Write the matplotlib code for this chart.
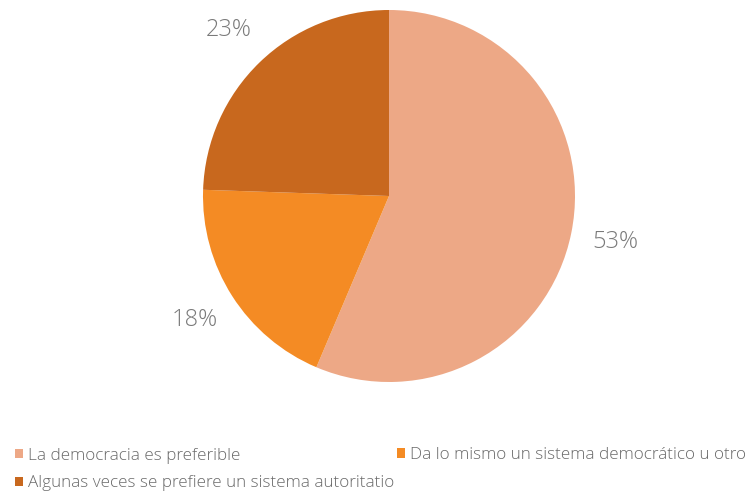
import matplotlib.pyplot as plt
from matplotlib.patches import Patch

# datos
categorias = ['La democracia es preferible',
              'Da lo mismo un sistema democrático u otro',
              'Algunas veces se prefiere un sistema autoritatio']
valores = [53, 18, 23]
colores = ['#EDA886', '#F48B24', '#C8681E']

plt.rcParams['font.family'] = ['Open Sans', 'DejaVu Sans']

W, H = 753, 497
fig = plt.figure(figsize=(W / 100, H / 100), dpi=100)
fig.patch.set_facecolor('white')

# ejes del pie: centro (389,196) px, radio 186 px
cx, cy, r = 389, 196, 186
ax = fig.add_axes([(cx - r) / W, (H - cy - r) / H, 2 * r / W, 2 * r / H])

total = sum(valores)
wedges, textos, pcts = ax.pie(
    valores, colors=colores, startangle=90, counterclock=False,
    autopct=lambda p: f'{p * total / 100:.0f}%', pctdistance=1.24,
    wedgeprops=dict(linewidth=0),
    textprops=dict(fontsize=17, color='#7a7a7a', fontweight='light'))
ax.set_xlim(-1, 1)
ax.set_ylim(-1, 1)
ax.set_aspect('auto')
ax.axis('off')

# leyenda: dos bloques, columna izquierda (1 y 3) y derecha (2)
handles = [Patch(facecolor=c, edgecolor='none') for c in colores]
estilo = dict(frameon=False, labelcolor='#6a6a6a', borderpad=0, borderaxespad=0,
              handlelength=0.47, handleheight=0.47, handletextpad=0.3,
              labelspacing=0.7,
              prop=dict(weight='light', size=12.3))
fig.legend([handles[0], handles[2]], [categorias[0], categorias[2]],
           loc='center left', bbox_to_anchor=(15 / W, 1 - 469.5 / H), **estilo)
fig.legend([handles[1]], [categorias[1]],
           loc='center left', bbox_to_anchor=(397 / W, 1 - 455 / H), **estilo)

fig.savefig('out.png', dpi=100)
